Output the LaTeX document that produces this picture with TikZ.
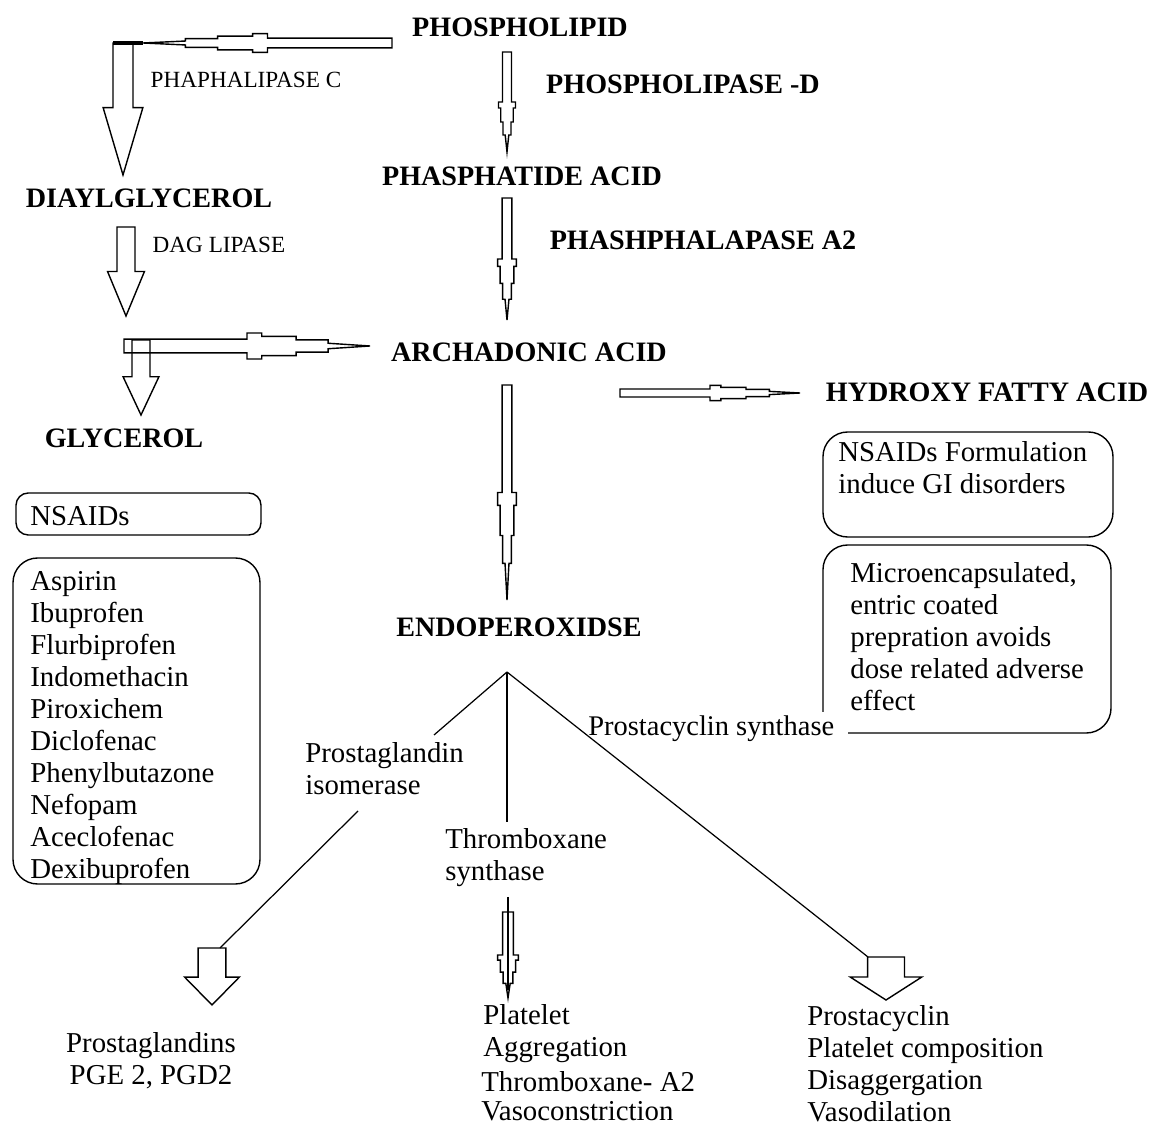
\documentclass[tikz,border=0pt]{standalone}
\usepackage{fontspec}
\setmainfont{Liberation Serif}
\usetikzlibrary{calc}

\tikzset{
  outl/.style={draw=black, line width=0.8pt},
  title/.style={font=\bfseries\fontsize{16}{18}\selectfont, inner sep=0pt},
  enzyme/.style={font=\fontsize{13.2}{15}\selectfont, inner sep=0pt},
  body/.style={font=\fontsize{16.4}{18.2}\selectfont, inner sep=0pt, align=left, anchor=north west},
  rbox/.style={draw=black, line width=0.8pt},
  link/.style={draw=black, line width=0.7pt},
}

% stepped hollow arrow: start, tip, half width of the shaft (pt)
\newcommand{\steparrow}[3]{%
  \pgfmathsetmacro\swA{#3}%
  \pgfmathsetmacro\swB{1.9*#3}%
  \pgfmathsetmacro\swC{1.4*#3}%
  \pgfmathsetmacro\swD{0.9*#3}%
  \pgfmathsetmacro\swE{0.4*#3}%
  \draw[outl] ($(#1)!\swA pt!90:(#2)$)
    -- ($(#1)!0.5!(#2)!\swA pt!90:(#2)$) -- ($(#1)!0.5!(#2)!\swB pt!90:(#2)$)
    -- ($(#1)!0.56!(#2)!\swB pt!90:(#2)$) -- ($(#1)!0.56!(#2)!\swC pt!90:(#2)$)
    -- ($(#1)!0.7!(#2)!\swC pt!90:(#2)$) -- ($(#1)!0.7!(#2)!\swD pt!90:(#2)$)
    -- ($(#1)!0.83!(#2)!\swD pt!90:(#2)$) -- ($(#1)!0.83!(#2)!\swE pt!90:(#2)$)
    -- (#2)
    -- ($(#1)!0.83!(#2)!\swE pt!-90:(#2)$) -- ($(#1)!0.83!(#2)!\swD pt!-90:(#2)$)
    -- ($(#1)!0.7!(#2)!\swD pt!-90:(#2)$) -- ($(#1)!0.7!(#2)!\swC pt!-90:(#2)$)
    -- ($(#1)!0.56!(#2)!\swC pt!-90:(#2)$) -- ($(#1)!0.56!(#2)!\swB pt!-90:(#2)$)
    -- ($(#1)!0.5!(#2)!\swB pt!-90:(#2)$) -- ($(#1)!0.5!(#2)!\swA pt!-90:(#2)$)
    -- ($(#1)!\swA pt!-90:(#2)$) -- cycle;}

% block arrow: start, tip, shaft half width, head half width (pt), where the head starts
\newcommand{\blockarrow}[5]{%
  \draw[outl] ($(#1)!#3pt!90:(#2)$) -- ($(#1)!#5!(#2)!#3pt!90:(#2)$)
    -- ($(#1)!#5!(#2)!#4pt!90:(#2)$) -- (#2)
    -- ($(#1)!#5!(#2)!#4pt!-90:(#2)$) -- ($(#1)!#5!(#2)!#3pt!-90:(#2)$)
    -- ($(#1)!#3pt!-90:(#2)$) -- cycle;}

\begin{document}
\begin{tikzpicture}[x=0.02cm, y=-0.02cm]
    \useasboundingbox (0,0) rectangle (1161,1131);

    % main chain
    \node[title] (phl)  at (520,27)  {PHOSPHOLIPID};
    \node[title] (pld)  at (683,84)  {PHOSPHOLIPASE -D};
    \node[title] (pha)  at (522,176) {PHASPHATIDE ACID};
    \node[title] (pla2) at (703,240) {PHASHPHALAPASE A2};
    \node[title] (ara)  at (529,352) {ARCHADONIC ACID};
    \node[title] (hfa)  at (987,392) {HYDROXY FATTY ACID};
    \node[title] (endo) at (519,627) {ENDOPEROXIDSE};

    % left side
    \node[enzyme] (plc)  at (246,80)  {PHAPHALIPASE C};
    \node[title]  (dag)  at (149,198) {DIAYLGLYCEROL};
    \node[enzyme] (dagl) at (219,245) {DAG LIPASE};
    \node[title]  (gly)  at (124,438) {GLYCEROL};

    % arrow ends
    \coordinate (plcS) at (392,43);  \coordinate (plcE) at (143,43);
    \coordinate (dagS) at (123,43);  \coordinate (dagE) at (123,175);
    \coordinate (dglS) at (126,227); \coordinate (dglE) at (126,316);
    \coordinate (araS) at (124,346); \coordinate (araE) at (370,346);
    \coordinate (glyS) at (141,340); \coordinate (glyE) at (141,415);
    \coordinate (pldS) at (507,52);  \coordinate (pldE) at (507,152);
    \coordinate (plaS) at (507,198); \coordinate (plaE) at (507,320);
    \coordinate (endS) at (507,385); \coordinate (endE) at (507,600);
    \coordinate (hfaS) at (620,393); \coordinate (hfaE) at (800,393);

    \steparrow{plcS}{plcE}{2.8}
    \draw[line width=2pt] (113,43) -- (plcE);
    \blockarrow{dagS}{dagE}{5.7}{11.3}{0.49}
    \blockarrow{dglS}{dglE}{5.1}{10.5}{0.5}
    \steparrow{araS}{araE}{3.9}
    \blockarrow{glyS}{glyE}{5.1}{10.2}{0.49}
    \steparrow{pldS}{pldE}{2.55}
    \steparrow{plaS}{plaE}{2.8}
    \steparrow{endS}{endE}{2.8}
    \steparrow{hfaS}{hfaE}{2.3}

    % NSAIDs boxes
    \draw[rbox, rounded corners=7pt] (16,493) rectangle (261,535);
    \node[font=\fontsize{16.4}{18.2}\selectfont, inner sep=0pt, anchor=west] (nsaid) at (30,516) {NSAIDs};
    \draw[rbox, rounded corners=14pt] (13,558) rectangle (260,884);
    \node[body] (drugs) at (30,571) {Aspirin\\Ibuprofen\\Flurbiprofen\\Indomethacin\\Piroxichem\\Diclofenac\\Phenylbutazone\\Nefopam\\Aceclofenac\\Dexibuprofen};

    \draw[rbox, rounded corners=14pt] (823,432) rectangle (1113,537);
    \node[body] (giform) at (838,441) {NSAIDs Formulation\\induce GI disorders};
    \draw[rbox, rounded corners=14pt] (823,712) -- (823,545) -- (1111,545) -- (1111,733) -- (848,733);
    \node[body] (micro) at (850,562) {Microencapsulated,\\entric coated\\prepration avoids\\dose related adverse\\effect};

    % branches from endoperoxidse
    \coordinate (fork)   at (507,672);
    \coordinate (pgiIn)  at (434,735);
    \coordinate (pgiOut) at (358,811);
    \coordinate (pgEnd)  at (220,948);
    \coordinate (txEnd)  at (507,822);
    \coordinate (pcEnd)  at (868,957);

    \draw[link] (fork) -- (pgiIn);
    \draw[link] (pgiOut) -- (pgEnd);
    \draw[link] (fork) -- (txEnd);
    \draw[link] (fork) -- (pcEnd);

    \node[body] (pgi) at (305,742) {Prostaglandin\\isomerase};
    \node[body] (txs) at (445,828) {Thromboxane\\synthase};
    \node[font=\fontsize{16.2}{18.2}\selectfont, inner sep=0pt, anchor=base west] (pcs) at (588,736) {Prostacyclin synthase};

    % end products
    \coordinate (pgS) at (212,948); \coordinate (pgE) at (212,1005);
    \coordinate (txS) at (508,912); \coordinate (txE) at (508,998);
    \coordinate (pcS) at (886,957); \coordinate (pcE) at (886,1000);
    \blockarrow{pgS}{pgE}{7.9}{15.6}{0.51}
    \steparrow{txS}{txE}{3.1}
    \draw[outl] (508,897) -- (508,990);
    \blockarrow{pcS}{pcE}{10.5}{20.4}{0.465}

    \node[body, align=center, anchor=north] (pg) at (151,1032) {Prostaglandins\\PGE 2, PGD2};
    \node[body] (plt) at (483,1004) {Platelet\\Aggregation};
    \node[body] (txa) at (481,1071) {Thromboxane- A2\\[-1.5pt]Vasoconstriction};
    \node[body] (pcy) at (807,1005) {Prostacyclin\\Platelet composition\\Disaggergation\\Vasodilation};
\end{tikzpicture}
\end{document}
